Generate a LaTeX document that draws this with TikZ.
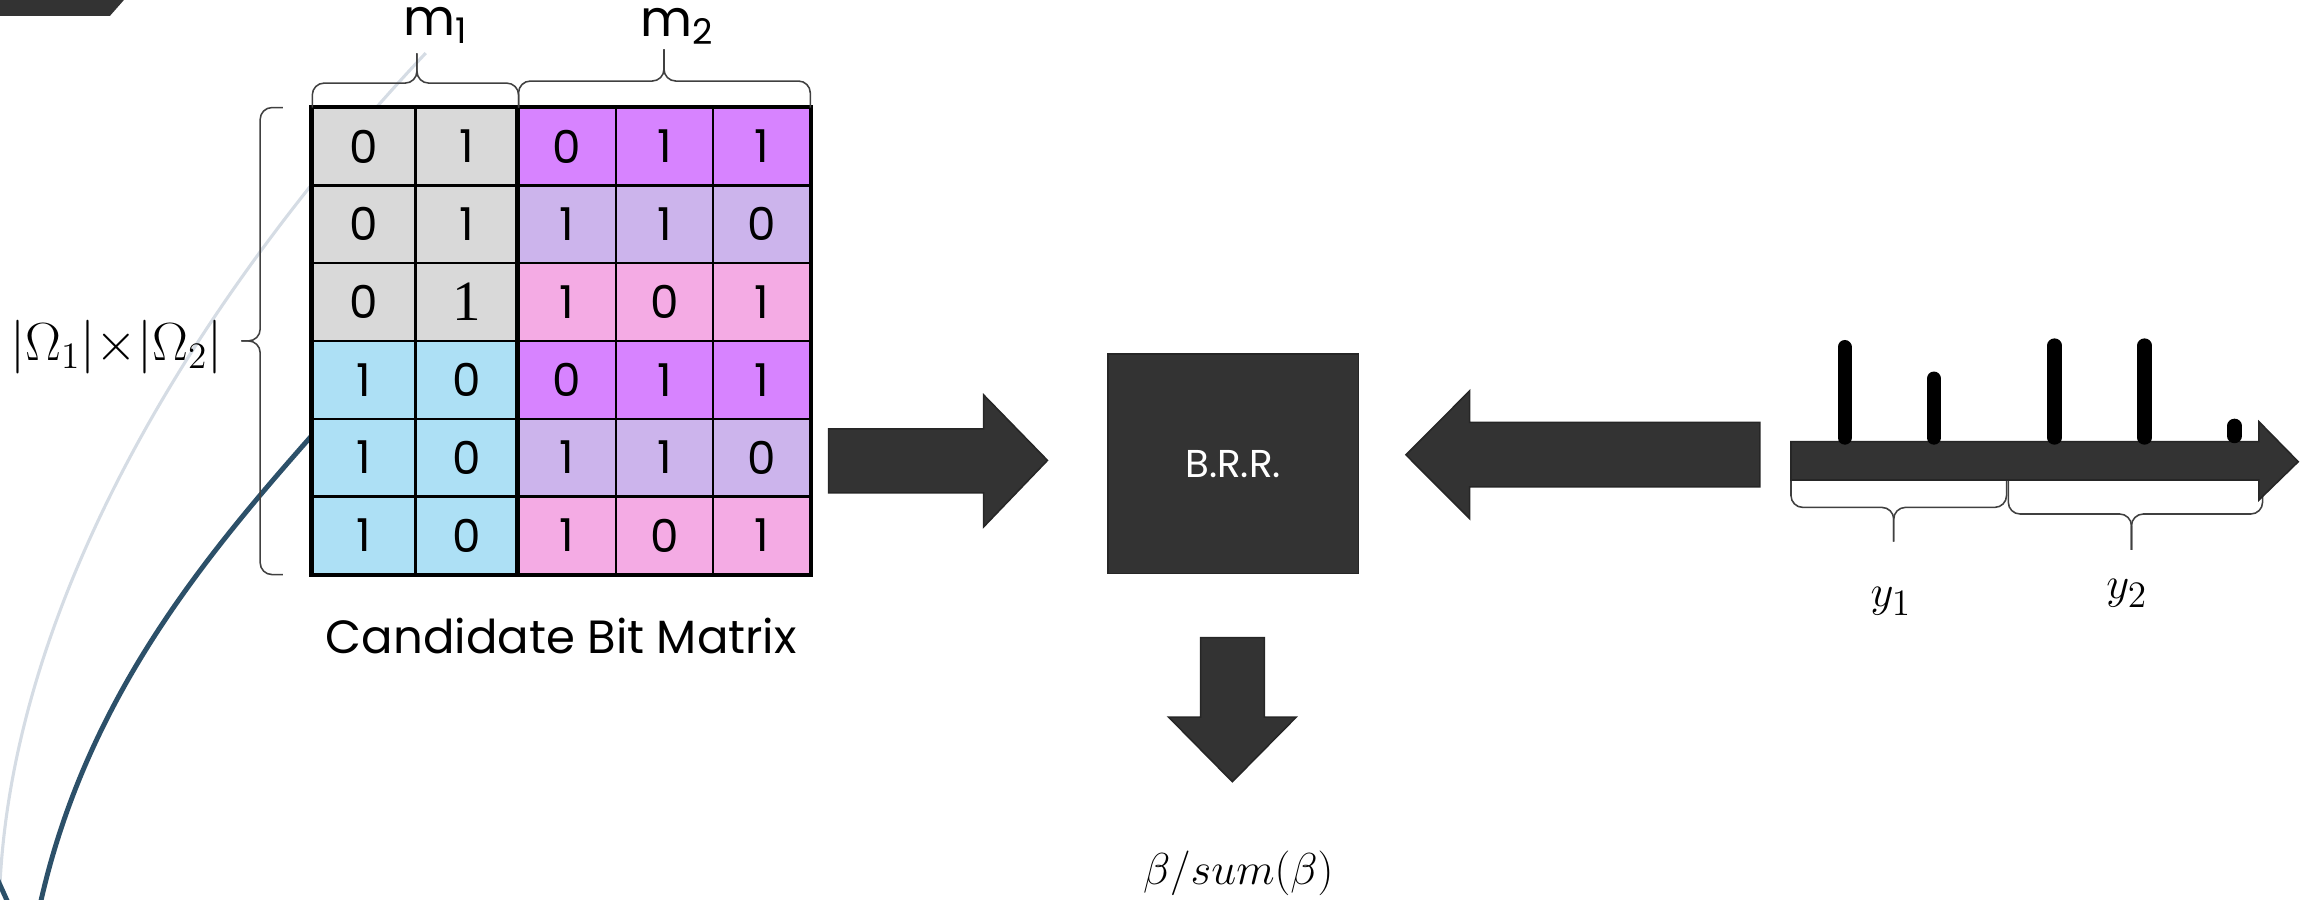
\documentclass[tikz,border=0pt]{standalone}
\usepackage{fontspec}
\setmainfont{Poppins}
\newfontfamily\serifdig{Liberation Serif}
\usetikzlibrary{calc}
\definecolor{cgray}{HTML}{D9D9D9}
\definecolor{cblue}{HTML}{ADE0F5}
\definecolor{cpurple}{HTML}{D783FF}
\definecolor{clav}{HTML}{CCB4EC}
\definecolor{cpink}{HTML}{F4ABE4}
\definecolor{dk}{HTML}{333333}
\definecolor{dkline}{HTML}{262626}
\definecolor{curvegray}{HTML}{D5DCE4}
\definecolor{curveblue}{HTML}{2C5069}
\newcommand\serifone{{\serifdig\fontsize{22}{24}\selectfont 1}}
\begin{document}
\begin{tikzpicture}[x=0.02cm,y=-0.02cm,
  cell/.style={draw=black,line width=0.9pt,minimum height=1.056cm,inner sep=0pt,
    font=\fontsize{17.5}{20}\selectfont},
  wide/.style={minimum width=1.4cm},
  narrow/.style={minimum width=1.32cm},
  br/.style={draw=black!75,line width=0.6pt,rounded corners=1.6mm},
  blockarrow/.style={fill=dk,draw=dkline,line width=0.6pt,line join=miter},
  spike/.style={line width=5.5pt,line cap=round,black},
  lbl/.style={inner sep=0pt}]
\useasboundingbox (0,0) rectangle (1568,610.3);
% background decoration
\fill[dk] (-1,-1) -- (85,-1) -- (74.7,10.7) -- (-1,10.7) -- cycle;
\begin{scope}
\clip (0,0) rectangle (1568,610.3);
\draw[curvegray,line width=1.2pt] (289,36) .. controls (140,195) and (10,400) .. (0,600);
\draw[curveblue,line width=1.9pt] (230,275) .. controls (150,365) and (60,465) .. (27,615);
\draw[curveblue,line width=1.9pt] (-3,594) -- (6,614);
\end{scope}
% matrix
\foreach \r/\fl/\fr/\va/\vb/\vc/\vd/\ve in {
 1/cgray/cpurple/0/1/0/1/1,
 2/cgray/clav/0/1/1/1/0,
 3/cgray/cpink/0/\serifone/1/0/1,
 4/cblue/cpurple/1/0/0/1/1,
 5/cblue/clav/1/0/1/1/0,
 6/cblue/cpink/1/0/1/0/1}{
 \pgfmathsetmacro\yy{73+52.8*(\r-0.5)}
 \node[cell,wide,fill=\fl] (m\r-1) at (247,\yy) {\va};
 \node[cell,wide,fill=\fl] (m\r-2) at (317,\yy) {\vb};
 \node[cell,narrow,fill=\fr] (m\r-3) at (385,\yy) {\vc};
 \node[cell,narrow,fill=\fr] (m\r-4) at (451,\yy) {\vd};
 \node[cell,narrow,fill=\fr] (m\r-5) at (517,\yy) {\ve};
}
\draw[line width=1.3pt] (m1-1.north west) rectangle (m6-5.south east);
\draw[line width=2pt] (m1-3.north west) -- (m6-3.south west);
% braces
\draw[br] (212,73) -- (212,56.4) -- (283,56.4) -- (283,36.2);
\draw[br] (352,73) -- (352,56.4) -- (283,56.4) -- (283,36.2);
\draw[br] (352,73) -- (352,55) -- (450.7,55) -- (450.7,33.5);
\draw[br] (550,73) -- (550,55) -- (450.7,55) -- (450.7,33.5);
\draw[br] (192,73) -- (176.6,73) -- (176.6,231.4) -- (163.8,231.4);
\draw[br] (192,390) -- (176.6,390) -- (176.6,231.4) -- (163.8,231.4);
% labels
\node[lbl,anchor=base] (lm1) at (295.6,24.1) {\fontsize{19.5}{22}\selectfont m\textsubscript{1}};
\node[lbl,anchor=base] (lm2) at (460,24.7) {\fontsize{19.5}{22}\selectfont m\textsubscript{2}};
\node[lbl] (lom) at (79,235.5) {\fontsize{20}{22}\selectfont $|\Omega_1|{\times}|\Omega_2|$};
\node[lbl,anchor=base] (lcbm) at (381,443.3) {\fontsize{18}{22}\selectfont Candidate Bit Matrix};
% BRR box
\node[fill=dk,draw=dkline,line width=0.6pt,minimum width=3.4cm,minimum height=2.978cm,
  text=white,font=\fontsize{15}{18}\selectfont] (brr) at (837,314.75) {B.R.R.};
% block arrows
\filldraw[blockarrow] (562.5,291.1) -- (667.7,291.1) -- (667.7,268.1) -- (711,312.5)
  -- (667.7,357.6) -- (667.7,334.5) -- (562.5,334.5) -- cycle;
\filldraw[blockarrow] (1194.5,286.7) -- (997.6,286.7) -- (997.6,265.3) -- (954.3,308.7)
  -- (997.6,352.1) -- (997.6,330.5) -- (1194.5,330.5) -- cycle;
\filldraw[blockarrow] (814.9,432.8) -- (858.2,432.8) -- (858.2,486.7) -- (879.9,486.7)
  -- (836.5,530.6) -- (793.2,486.7) -- (814.9,486.7) -- cycle;
\node[lbl] (beta) at (840.5,593) {\fontsize{19}{22}\selectfont $\beta/sum(\beta)$};
% signal
\draw[br] (1215.7,321.3) -- (1215.7,344.4) -- (1285.4,344.4) -- (1285.4,367.7);
\draw[br] (1362,321.3) -- (1362,344.4) -- (1285.4,344.4) -- (1285.4,367.7);
\draw[br] (1363.2,325.8) -- (1363.2,348.9) -- (1446.8,348.9) -- (1446.8,373.3);
\draw[br] (1535.8,325.8) -- (1535.8,348.9) -- (1446.8,348.9) -- (1446.8,373.3);
\filldraw[blockarrow] (1215.7,299.8) -- (1533.3,299.8) -- (1533.3,286.2) -- (1560,313.4)
  -- (1533.3,339.4) -- (1533.3,325.8) -- (1215.7,325.8) -- cycle;
\draw[spike] (1252.1,235.6) -- (1252.1,297);
\draw[spike] (1312.7,257) -- (1312.7,297);
\draw[spike] (1394.6,234.5) -- (1394.6,297);
\draw[spike] (1455.7,234.5) -- (1455.7,297);
\draw[spike] (1516.8,289) -- (1516.8,296);
\node[lbl] (ly1) at (1283.6,408.4) {\fontsize{19}{22}\selectfont $y_1$};
\node[lbl] (ly2) at (1443.7,402.7) {\fontsize{19}{22}\selectfont $y_2$};
\end{tikzpicture}
\end{document}
